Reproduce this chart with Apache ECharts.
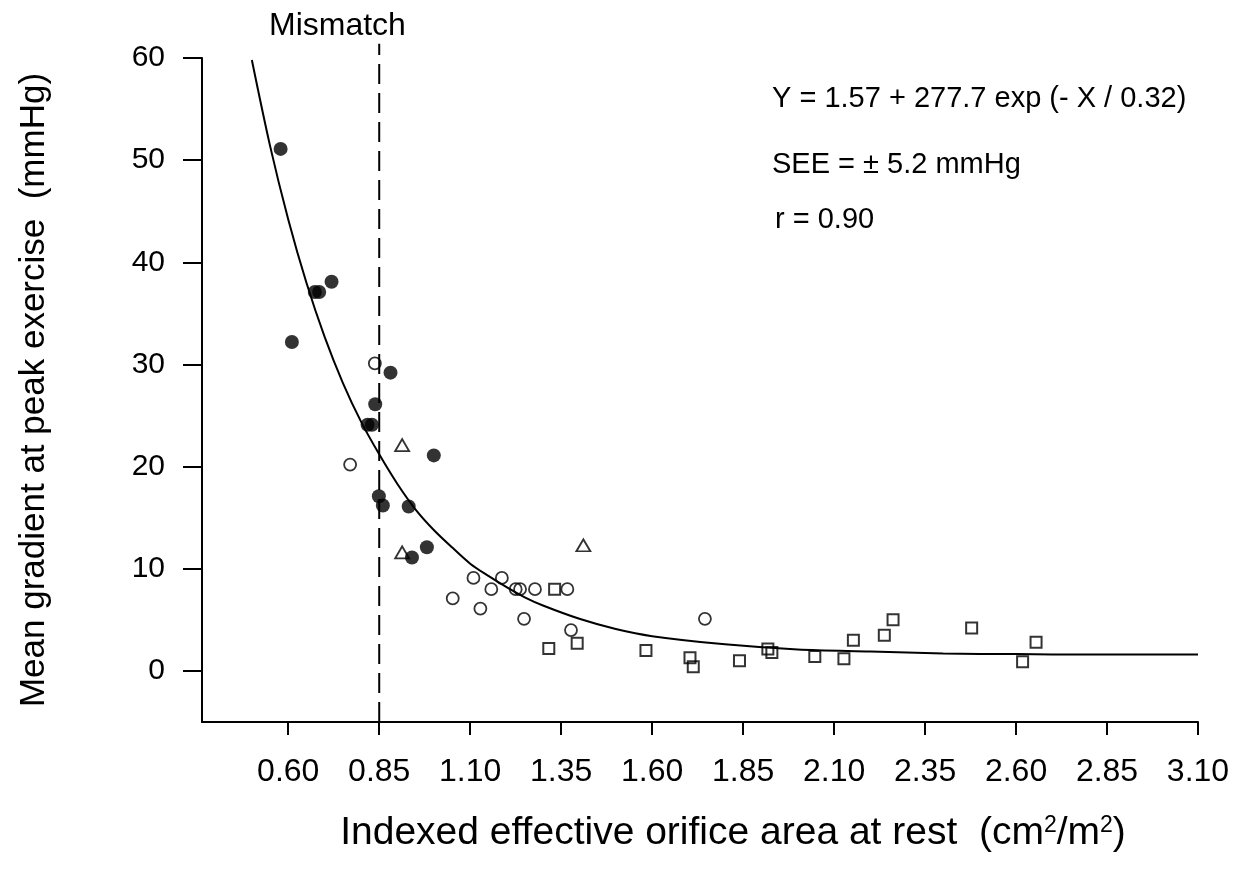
<!DOCTYPE html>
<html>
<head>
<meta charset="utf-8">
<script src="https://cdn.jsdelivr.net/npm/echarts@6/dist/echarts.min.js"></script>
<style>
html,body{margin:0;padding:0;background:#fff;}
#chart{width:1234px;height:882px;}
</style>
</head>
<body>
<div id="chart"></div>
<script>
// ---- data ----
const xTickValues = [0.60, 0.85, 1.10, 1.35, 1.60, 1.85, 2.10, 2.35, 2.60, 2.85, 3.10];
const yTickValues = [0, 10, 20, 30, 40, 50, 60];

// closed circles
const filledCircles = [
  [0.579, 51.1], [0.610, 32.2], [0.673, 37.1], [0.685, 37.1], [0.719, 38.1],
  [0.881, 29.2], [0.839, 26.1], [0.818, 24.1], [0.830, 24.1], [1.000, 21.1],
  [0.849, 17.1], [0.860, 16.2], [0.931, 16.1], [0.981, 12.1], [0.940, 11.1]
];
// open circles
const openCircles = [
  [0.838, 30.1], [0.770, 20.2], [1.109, 9.1], [1.187, 9.1], [1.158, 8.0],
  [1.225, 8.0], [1.237, 8.0], [1.278, 8.0], [1.367, 8.0], [1.052, 7.1],
  [1.128, 6.1], [1.248, 5.1], [1.377, 4.0], [1.745, 5.1]
];
// open triangles
const triangles = [
  [0.913, 22.1], [0.913, 11.6], [1.411, 12.3]
];
// open squares
const squares = [
  [1.332, 8.0], [1.316, 2.2], [1.394, 2.7], [1.583, 2.0], [1.704, 1.3],
  [1.713, 0.4], [1.840, 1.0], [1.918, 2.15], [1.929, 1.8], [2.047, 1.4],
  [2.127, 1.2], [2.153, 3.0], [2.238, 3.5], [2.262, 5.0], [2.478, 4.2],
  [2.618, 0.9], [2.655, 2.8]
];
// fitted curve, points
const curveX = [0.50, 0.55, 0.60, 0.65, 0.70, 0.75, 0.80, 0.85, 0.90, 0.95, 1.00, 1.05, 1.10, 1.15, 1.20, 1.25, 1.30, 1.40, 1.50, 1.60, 1.80, 2.00, 2.20, 2.40, 2.60, 2.80, 3.10];
const curveY = [59.8, 51.4, 44.2, 38.0, 32.7, 28.2, 24.4, 21.2, 18.3, 15.8, 13.8, 12.1, 10.5, 9.3, 8.2, 7.2, 6.4, 5.1, 4.1, 3.4, 2.6, 2.1, 1.9, 1.7, 1.65, 1.6, 1.6];
// mismatch cut-off line
const mismatchX = 0.85;
const mismatchY = [-5, 61.4];

const xMin = 0.363, xMax = 3.10, yMin = -5, yMax = 60;

const FONT = '"Liberation Sans", Arial, Helvetica, sans-serif';
const INK = '#000';

const chart = echarts.init(document.getElementById('chart'));
const curveData = curveX.map((x, i) => [x, curveY[i]]);
const mismatchData = mismatchY.map(y => [mismatchX, y]);

const option = {
  backgroundColor: '#fff',
  animation: false,
  grid: { left: 202, right: 36, top: 58, bottom: 160, containLabel: false, outerBoundsMode: 'none' },
  xAxis: {
    type: 'value', min: xMin, max: xMax,
    name: 'Indexed effective orifice area at rest  (cm{sup|2}/m{sup|2})',
    nameLocation: 'middle', nameGap: 92,
    nameTextStyle: {
      fontFamily: FONT, fontSize: 39, color: INK, padding: [0, 0, 0, 66],
      rich: { sup: { fontFamily: FONT, fontSize: 23, color: INK, verticalAlign: 'top', padding: [0, 0, 16, 0] } }
    },
    axisLine: { show: true, onZero: false, lineStyle: { color: INK, width: 2 } },
    axisTick: { show: true, length: 13, lineStyle: { color: INK, width: 2 }, customValues: xTickValues },
    axisLabel: { show: true, margin: 34, fontFamily: FONT, fontSize: 32, color: INK, customValues: xTickValues,
      formatter: v => v.toFixed(2) },
    splitLine: { show: false }
  },
  yAxis: {
    type: 'value', min: yMin, max: yMax,
    name: 'Mean gradient at peak exercise  (mmHg)',
    nameLocation: 'middle', nameGap: 150, nameRotate: 90,
    nameTextStyle: { fontFamily: FONT, fontSize: 35, color: INK },
    axisLine: { show: true, onZero: false, lineStyle: { color: INK, width: 2 } },
    axisTick: { show: true, length: 19, lineStyle: { color: INK, width: 2 }, customValues: yTickValues },
    axisLabel: { show: true, margin: 37, fontFamily: FONT, fontSize: 30, color: INK, customValues: yTickValues },
    splitLine: { show: false }
  },
  graphic: [
    { type: 'text', left: 269, top: 10, style: { text: 'Mismatch', font: '32px ' + FONT, fill: INK } },
    { type: 'text', left: 772, top: 84, style: { text: 'Y = 1.57 + 277.7 exp (- X / 0.32)', font: '29px ' + FONT, fill: INK } },
    { type: 'text', left: 772, top: 150, style: { text: 'SEE = \u00B1 5.2 mmHg', font: '29px ' + FONT, fill: INK } },
    { type: 'text', left: 775, top: 205, style: { text: 'r = 0.90', font: '29px ' + FONT, fill: INK } }
  ],
  series: [
    {
      name: 'fit', type: 'line', data: curveData, symbol: 'none', smooth: 0.3,
      lineStyle: { color: INK, width: 2 }, z: 1, silent: true
    },
    {
      name: 'mismatch', type: 'line', data: mismatchData, symbol: 'none', clip: false,
      lineStyle: { color: INK, width: 2, type: [20, 9] }, z: 1, silent: true
    },
    {
      name: 'filled', type: 'scatter', data: filledCircles, symbol: 'circle', symbolSize: 14,
      itemStyle: { color: INK }, z: 3
    },
    {
      name: 'open', type: 'scatter', data: openCircles, symbol: 'circle', symbolSize: 12,
      itemStyle: { color: 'rgba(255,255,255,0)', borderColor: INK, borderWidth: 1.8 }, z: 3
    },
    {
      name: 'triangle', type: 'scatter', data: triangles, symbol: 'triangle', symbolSize: [14, 12],
      itemStyle: { color: 'rgba(255,255,255,0)', borderColor: INK, borderWidth: 1.8 }, z: 3
    },
    {
      name: 'square', type: 'scatter', data: squares, symbol: 'rect', symbolSize: 11,
      itemStyle: { color: 'rgba(255,255,255,0)', borderColor: INK, borderWidth: 2 }, z: 3
    }
  ]
};
chart.setOption(option);
</script>
</body>
</html>
